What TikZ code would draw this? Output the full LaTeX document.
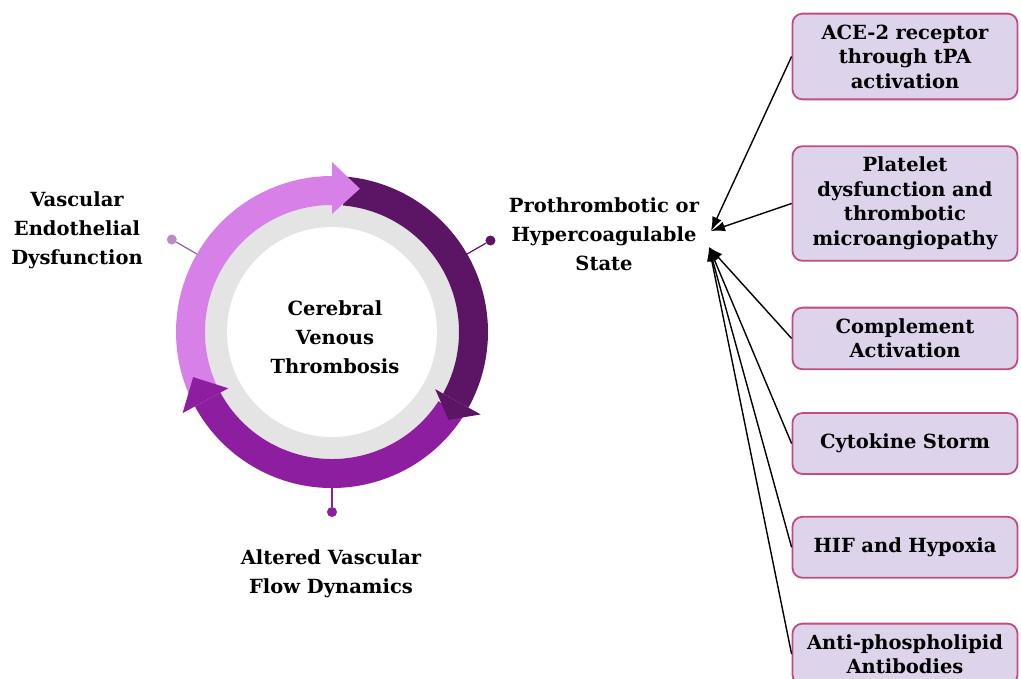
\documentclass[tikz,border=0pt]{standalone}
\usepackage{fontspec}
\setmainfont{DejaVu Serif}
\usetikzlibrary{positioning,arrows.meta}

\definecolor{lightarc}{RGB}{214,128,232}
\definecolor{darkarc}{RGB}{92,20,100}
\definecolor{midarc}{RGB}{142,30,160}
\definecolor{ringgrey}{RGB}{228,228,228}
\definecolor{boxfill}{RGB}{221,212,236}
\definecolor{boxedge}{RGB}{192,76,128}

\begin{document}
\begin{tikzpicture}[x=1pt,y=1pt,
  mybox/.style={draw=boxedge,line width=1.8pt,fill=boxfill,rounded corners=10pt,text width=211pt,align=center,inner xsep=7pt,inner ysep=11pt,minimum height=61pt,font=\bfseries\fontsize{19.5}{24.5}\selectfont},
  mylabel/.style={align=center,font=\bfseries\fontsize{19.5}{29}\selectfont},
  mydot/.style={circle,inner sep=0pt,minimum size=10pt},
  myarrow/.style={-{Latex[length=14pt,width=10pt]},line width=1.4pt},
 ]
\useasboundingbox (0,0) rectangle (1021,-678);
\clip (0,0) rectangle (1021,-678);

% ring
\begin{scope}[shift={(332,-332)}]
\fill[ringgrey] (0,0) circle[radius=127];
\fill[white] (0,0) circle[radius=105];
\fill[lightarc] (205:156) arc[start angle=205,end angle=90,radius=156] -- (90:127) arc[start angle=90,end angle=205,radius=127] -- cycle;
\fill[darkarc] (85:156) arc[start angle=85,end angle=-29,radius=156] -- (-29:127) arc[start angle=-29,end angle=85,radius=127] -- cycle;
\fill[midarc] (-33:156) arc[start angle=-33,end angle=-151.5,radius=156] -- (-151.5:127) arc[start angle=-151.5,end angle=-33,radius=127] -- cycle;
\fill[lightarc] (90:118) -- (90:170) -- (79:146) -- cycle;
\fill[darkarc] (-29:118) -- (-29:170) -- (-37:146) -- cycle;
\fill[midarc] (208.5:118) -- (208.5:170) -- (198:146) -- cycle;

\coordinate (ringL) at (150:156);
\coordinate (ringR) at (30:156);
\coordinate (ringB) at (270:156);
\node[mydot,fill={rgb,255:red,182;green,142;blue,196}] (pinL) at (150:185) {};
\node[mydot,fill=darkarc] (pinR) at (30:183) {};
\node[mydot,fill=midarc] (pinB) at (270:180) {};
\draw[line width=1.2pt,color={rgb,255:red,140;green,100;blue,150}] (ringL) -- (pinL);
\draw[line width=1.2pt,darkarc] (ringR) -- (pinR);
\draw[line width=1.2pt,midarc] (ringB) -- (pinB);
\end{scope}

\node[mylabel] (cvt) at (335,-337) {Cerebral\\Venous\\Thrombosis};
\node[mylabel] (ved) at (77,-230) {Vascular\\Endothelial\\Dysfunction};
\node[mylabel] (state) at (604,-234) {Prothrombotic or\\Hypercoagulable\\State};
\node[mylabel] (flow) at (331,-574) {Altered Vascular\\Flow Dynamics};

% causes
\node[mybox] (B1) at (905,-56.5) {ACE-2 receptor\\through tPA\\activation};
\node[mybox, below=45pt of B1] (B2) {Platelet\\dysfunction and\\thrombotic\\microangiopathy};
\node[mybox, below=45pt of B2] (B3) {Complement\\Activation};
\node[mybox, below=42pt of B3] (B4) {Cytokine Storm};
\node[mybox, below=41pt of B4] (B5) {HIF and Hypoxia};
\node[mybox, below=44pt of B5, inner ysep=7pt] (B6) {Anti-phospholipid\\Antibodies};

\coordinate (hubA) at (711,-231);
\coordinate (hubB) at (709,-247);

\path[myarrow]
(B1.west) edge (hubA)
(B2.west) edge (hubA)
(B3.west) edge (hubB)
(B4.west) edge (hubB)
(B5.west) edge (hubB)
(B6.west) edge (hubB);

\end{tikzpicture}
\end{document}
